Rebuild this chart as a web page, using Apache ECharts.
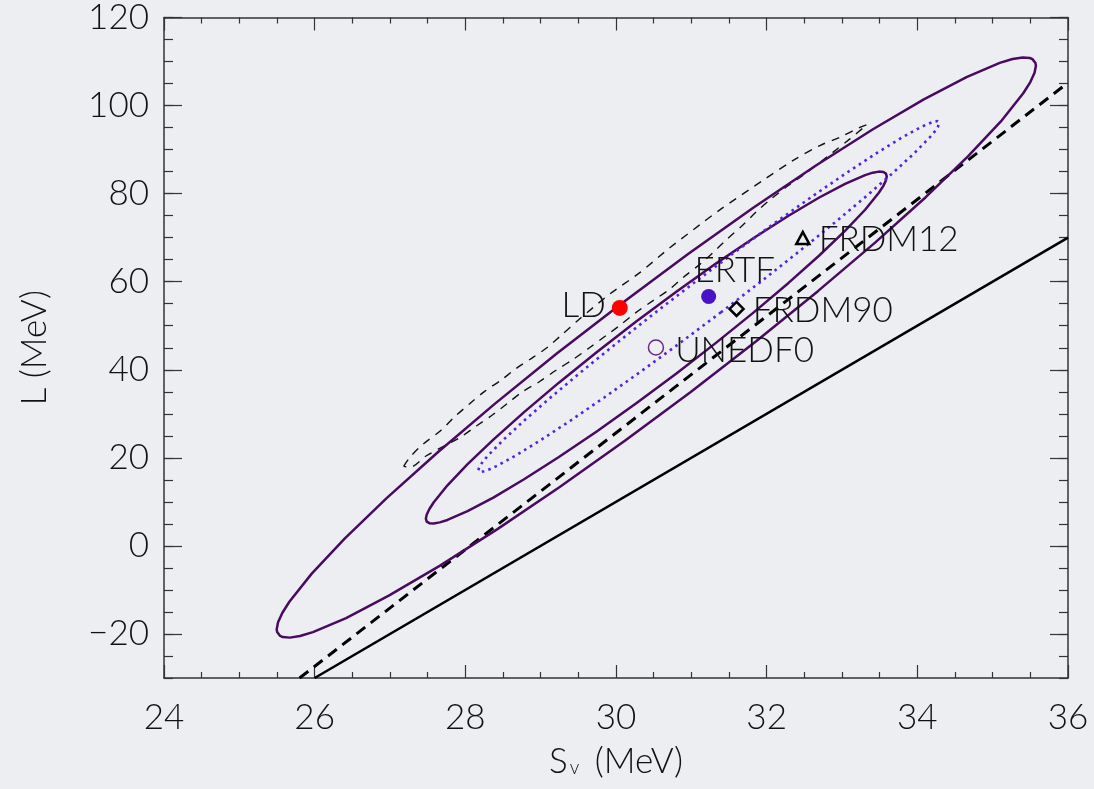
<!DOCTYPE html>
<html>
<head>
<meta charset="utf-8">
<script src="https://cdn.jsdelivr.net/npm/echarts@6/dist/echarts.min.js"></script>
<style>
html,body{margin:0;padding:0;background:#eceef1;}
#chart{width:1094px;height:789px;}
</style>
</head>
<body>
<div id="chart"></div>
<script>
// ---- data ----
const xTicks = [24, 26, 28, 30, 32, 34, 36];
const yTicks = [-20, 0, 20, 40, 60, 80, 100, 120];

// outer (purple, solid) contour
const outerContour = [
 [30.992,34.97],[30.113,23.82],[29.248,13.31],[28.421,3.76],[27.659,-4.53],[26.984,-11.31],
 [26.417,-16.38],[25.977,-19.59],[25.806,-20.46],[25.672,-20.83],[25.576,-20.70],[25.542,-20.45],
 [25.517,-20.07],[25.502,-19.57],[25.496,-18.94],[25.514,-17.33],[25.570,-15.24],[25.664,-12.69],
 [25.961,-6.30],[26.398,1.65],[26.959,10.91],[27.631,21.22],[28.390,32.26],[29.214,43.68],
 [30.079,55.13],[30.957,66.28],[31.822,76.80],[32.649,86.34],[33.411,94.63],[34.086,101.41],
 [34.653,106.48],[35.094,109.69],[35.264,110.56],[35.398,110.93],[35.494,110.80],[35.528,110.55],
 [35.553,110.17],[35.568,109.67],[35.574,109.04],[35.556,107.43],[35.500,105.34],[35.406,102.79],
 [35.109,96.40],[34.672,88.45],[34.111,79.19],[33.439,68.88],[32.680,57.85],[31.856,46.42],[30.992,34.97]
];
// inner (purple, solid) contour
const innerContour = [
 [30.802,39.16],[30.269,32.39],[29.744,25.99],[29.242,20.18],[28.780,15.13],[28.372,10.98],
 [28.029,7.88],[27.763,5.89],[27.661,5.34],[27.580,5.10],[27.523,5.16],[27.502,5.30],
 [27.488,5.52],[27.479,5.82],[27.476,6.18],[27.488,7.14],[27.523,8.39],[27.581,9.91],
 [27.763,13.77],[28.030,18.56],[28.372,24.15],[28.780,30.38],[29.242,37.07],[29.743,43.99],
 [30.268,50.94],[30.801,57.71],[31.326,64.11],[31.828,69.92],[32.290,74.97],[32.698,79.12],
 [33.041,82.23],[33.307,84.21],[33.409,84.76],[33.490,85.00],[33.547,84.94],[33.567,84.80],
 [33.582,84.58],[33.591,84.29],[33.594,83.92],[33.582,82.96],[33.547,81.71],[33.489,80.19],
 [33.307,76.34],[33.040,71.54],[32.698,65.95],[32.290,59.72],[31.828,53.04],[31.327,46.11],[30.802,39.16]
];
// ERTF (blue, dotted) contour
const ertfContour = [
 [31.394,53.06],[30.861,46.23],[30.339,39.71],[29.843,33.70],[29.391,28.40],[28.994,23.95],
 [28.666,20.50],[28.414,18.13],[28.321,17.39],[28.249,16.94],[28.201,16.80],[28.185,16.84],
 [28.175,16.96],[28.171,17.15],[28.172,17.42],[28.193,18.18],[28.237,19.24],[28.304,20.57],
 [28.504,24.07],[28.786,28.53],[29.143,33.86],[29.563,39.88],[30.035,46.41],[30.542,53.26],
 [31.070,60.20],[31.604,67.03],[32.125,73.55],[32.621,79.56],[33.073,84.86],[33.470,89.31],
 [33.798,92.77],[34.050,95.13],[34.143,95.87],[34.215,96.32],[34.263,96.46],[34.279,96.42],
 [34.289,96.30],[34.293,96.11],[34.292,95.84],[34.271,95.08],[34.227,94.02],[34.160,92.69],
 [33.960,89.20],[33.678,84.73],[33.321,79.40],[32.901,73.38],[32.429,66.85],[31.922,60.00],[31.394,53.06]
];
// thin black dashed contour
const dashedContour = [
 [27.181,18.07],[27.274,20.32],[27.437,23.08],[27.682,26.32],[27.858,29.31],[28.058,32.30],
 [28.257,35.09],[28.479,37.70],[28.678,40.33],[28.898,42.80],[29.098,45.21],[29.253,47.53],
 [29.519,51.57],[29.917,57.19],[30.316,62.07],[30.714,67.70],[31.113,72.93],[31.378,76.31],
 [31.953,83.05],[32.352,87.55],[32.706,90.92],[32.972,92.79],[33.238,95.04],[33.331,95.65],
 [33.105,92.43],[32.883,89.42],[32.484,84.18],[32.264,81.55],[32.042,78.56],[31.866,75.93],
 [31.688,72.93],[31.467,69.56],[31.289,66.64],[31.113,63.94],[30.891,60.95],[30.714,58.32],
 [30.492,55.69],[30.272,53.08],[30.050,50.07],[29.873,47.82],[29.652,45.05],[29.430,42.35],
 [29.209,39.95],[28.987,37.34],[28.766,35.09],[28.566,32.46],[28.367,29.83],[28.147,27.22],
 [27.925,24.59],[27.483,20.47],[27.261,17.84],[27.181,18.07]
];
// straight lines
const solidLine = [[26, -30], [36, 70]];
const dashedLine = [[25.8, -30], [36, 105.2]];

// model points
const modelNames = ['LD', 'ERTF', 'UNEDF0', 'FRDM90', 'FRDM12'];
const modelS = [30.05, 31.23, 30.53, 31.60, 32.48];
const modelL = [54.04, 56.63, 45.05, 53.82, 69.94];

// ---- styling ----
const FONT = 'Lato';
const TXT = '#111';
const AX = '#333';
const FS = 35;
const textBase = {fontFamily: FONT, fontWeight: 300, fontSize: FS, color: TXT};

function yFmt(v) {
  if (v % 20 !== 0) return '';
  return v < 0 ? '\u2212' + Math.abs(v) : String(v);
}

const yCommon = {type: 'value', min: -30, max: 120, splitLine: {show: false}};
const xCommon = {type: 'value', min: 24, max: 36, interval: 2, splitLine: {show: false}};

function pt(i) { return [[modelS[i], modelL[i]]]; }

const option = {
  backgroundColor: '#eceef1',
  animation: false,
  grid: {left: 164, right: 26, top: 11, bottom: 111},
  xAxis: [
    Object.assign({}, xCommon, {
      position: 'bottom',
      axisLine: {show: true, onZero: false, lineStyle: {color: AX, width: 1.5}},
      axisTick: {inside: true, length: 13, lineStyle: {color: AX, width: 1.2}},
      minorTick: {show: true, splitNumber: 4, length: 6, lineStyle: {color: AX, width: 1.2}},
      axisLabel: Object.assign({margin: 22, customValues: xTicks}, textBase),
      name: '{s|S}{sub|v}{s| (MeV)}',
      nameLocation: 'middle',
      nameGap: 66,
      nameTextStyle: Object.assign({}, textBase, {
        rich: {
          s: Object.assign({}, textBase, {lineHeight: 38, verticalAlign: 'top'}),
          sub: Object.assign({}, textBase, {fontSize: 19, lineHeight: 38, verticalAlign: 'top', padding: [14, 6, 0, 2]})
        }
      })
    }),
    Object.assign({}, xCommon, {
      position: 'top',
      axisLine: {show: true, onZero: false, lineStyle: {color: AX, width: 1.5}},
      axisTick: {inside: true, length: 13, lineStyle: {color: AX, width: 1.2}},
      minorTick: {show: true, splitNumber: 4, length: 6, lineStyle: {color: AX, width: 1.2}},
      axisLabel: {show: false}
    })
  ],
  yAxis: [
    Object.assign({}, yCommon, {
      position: 'left', interval: 5,
      axisLine: {show: true, onZero: false, lineStyle: {color: AX, width: 1.5}},
      axisTick: {inside: true, length: 9, lineStyle: {color: AX, width: 1.2}},
      axisLabel: Object.assign({margin: 15, customValues: yTicks, formatter: yFmt}, textBase),
      name: 'L (MeV)',
      nameLocation: 'middle',
      nameGap: 112,
      nameTextStyle: textBase
    }),
    Object.assign({}, yCommon, {
      position: 'left',
      axisLine: {show: false, onZero: false},
      axisTick: {inside: true, length: 18, customValues: yTicks, lineStyle: {color: AX, width: 1.2}},
      axisLabel: {show: false}
    }),
    Object.assign({}, yCommon, {
      position: 'right', interval: 5,
      axisLine: {show: true, onZero: false, lineStyle: {color: AX, width: 1.5}},
      axisTick: {inside: true, length: 9, lineStyle: {color: AX, width: 1.2}},
      axisLabel: {show: false}
    }),
    Object.assign({}, yCommon, {
      position: 'right',
      axisLine: {show: false, onZero: false},
      axisTick: {inside: true, length: 18, customValues: yTicks, lineStyle: {color: AX, width: 1.2}},
      axisLabel: {show: false}
    })
  ],
  series: [
    {type: 'line', data: solidLine, symbol: 'none', lineStyle: {color: '#000', width: 2.6}},
    {type: 'line', data: dashedLine, symbol: 'none', lineStyle: {color: '#000', width: 3, type: [11, 7]}},
    {type: 'line', data: dashedContour, symbol: 'none', smooth: 0.3, lineStyle: {color: '#111', width: 1.4, type: [8, 7]}},
    {type: 'line', data: outerContour, symbol: 'none', lineStyle: {color: '#4b0a61', width: 2.5, join: 'round'}},
    {type: 'line', data: innerContour, symbol: 'none', lineStyle: {color: '#4b0a61', width: 2.5, join: 'round'}},
    {type: 'line', data: ertfContour, symbol: 'none', lineStyle: {color: '#5522e6', width: 2.6, type: [2.6, 4.2]}},
    {type: 'scatter', data: pt(0), symbol: 'circle', symbolSize: 16, z: 10,
      itemStyle: {color: '#ff0000', opacity: 1},
      label: Object.assign({show: true, formatter: modelNames[0], position: 'left', distance: 6, offset: [0, -2]}, textBase)},
    {type: 'scatter', data: pt(1), symbol: 'circle', symbolSize: 15, z: 10,
      itemStyle: {color: '#4a12c6', opacity: 1},
      label: Object.assign({show: true, formatter: modelNames[1], position: 'top', distance: 3, offset: [26, 2]}, textBase)},
    {type: 'scatter', data: pt(2), symbol: 'circle', symbolSize: 15, z: 10,
      itemStyle: {color: 'rgba(0,0,0,0)', borderColor: '#6a2a80', borderWidth: 1.5, opacity: 1},
      label: Object.assign({show: true, formatter: modelNames[2], position: 'right', distance: 11, offset: [0, 3]}, textBase)},
    {type: 'scatter', data: pt(3), symbol: 'diamond', symbolSize: 14, z: 10,
      itemStyle: {color: 'rgba(0,0,0,0)', borderColor: '#000', borderWidth: 2.5, opacity: 1},
      label: Object.assign({show: true, formatter: modelNames[3], position: 'right', distance: 8, offset: [0, 2]}, textBase)},
    {type: 'scatter', data: pt(4), symbol: 'triangle', symbolSize: [13, 12], z: 10,
      itemStyle: {color: 'rgba(0,0,0,0)', borderColor: '#000', borderWidth: 2.5, opacity: 1},
      label: Object.assign({show: true, formatter: modelNames[4], position: 'right', distance: 8, offset: [0, 2]}, textBase)}
  ]
};

const chart = echarts.init(document.getElementById('chart'), null, {renderer: 'canvas'});
chart.setOption(option);
</script>
</body>
</html>
